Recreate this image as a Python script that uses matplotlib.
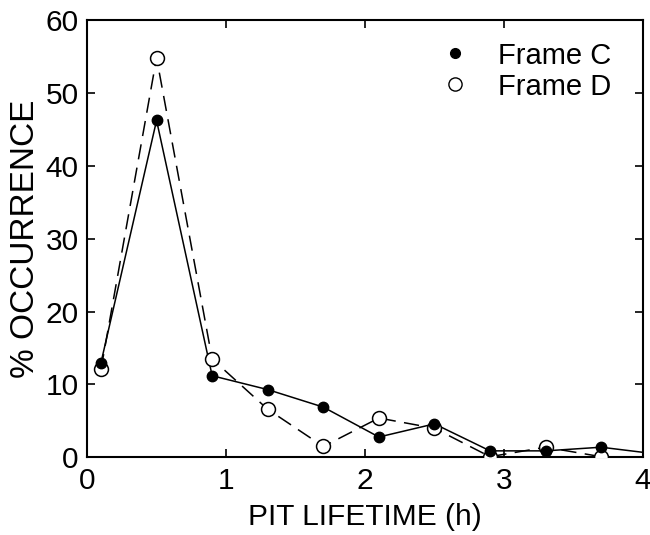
import matplotlib
matplotlib.use('Agg')
from matplotlib import pyplot as plt
from matplotlib.lines import Line2D

plt.rcParams['font.family'] = ['Liberation Sans', 'DejaVu Sans']

# pit lifetime bins (h) and percent occurrence
lifetime_c = [0.1, 0.5, 0.9, 1.3, 1.7, 2.1, 2.5, 2.9, 3.3, 3.7]
frame_c = [13.0, 46.2, 11.2, 9.3, 6.9, 2.8, 4.6, 0.9, 0.9, 1.4]
lifetime_d = [0.1, 0.5, 0.9, 1.3, 1.7, 2.1, 2.5, 2.9, 3.3, 3.7]
frame_d = [12.1, 54.8, 13.5, 6.6, 1.5, 5.4, 4.0, 0.1, 1.4, 0.1]
# solid line runs on to the edge of the axis
tail_x = [3.7, 4.0]
tail_c = [1.4, 0.7]

fig = plt.figure(figsize=(6.5, 5.35), dpi=100)
ax = fig.add_axes([0.134, 0.145, 0.855, 0.818])

ax.plot(lifetime_d, frame_d, color='k', lw=1.1, dashes=(10, 5.5), zorder=2)
ax.plot(lifetime_c, frame_c, color='k', lw=1.1, zorder=2)
ax.plot(tail_x, tail_c, color='k', lw=1.1, zorder=2)
ax.plot(lifetime_d, frame_d, 'o', ms=10, mfc='white', mec='k', mew=1.1, zorder=3)
ax.plot(lifetime_c, frame_c, 'o', ms=7.5, mfc='k', mec='k', zorder=4)

ax.set_xlim(0, 4)
ax.set_ylim(0, 60)
ax.set_xticks([0, 1, 2, 3, 4])
ax.set_yticks([0, 10, 20, 30, 40, 50, 60])
ax.tick_params(direction='in', length=6, width=1.2, labelsize=21.5,
               top=True, right=True)
ax.tick_params(axis='y', pad=6)
ax.tick_params(axis='x', pad=7)
for s in ax.spines.values():
    s.set_linewidth(1.5)

ax.set_xlabel('PIT LIFETIME (h)', fontsize=21.5, labelpad=6)
ax.set_ylabel('% OCCURRENCE', fontsize=24, labelpad=3)

handles = [Line2D([], [], ls='none', marker='o', ms=7, mfc='k', mec='k'),
           Line2D([], [], ls='none', marker='o', ms=9.5, mfc='white', mec='k', mew=1.0)]
ax.legend(handles, ['Frame C', 'Frame D'], loc='upper right', frameon=False,
          fontsize=21, handlelength=1.0, handletextpad=1.0, labelspacing=0.1,
          bbox_to_anchor=(0.991, 1.01))

plt.savefig('out.png', dpi=100)
